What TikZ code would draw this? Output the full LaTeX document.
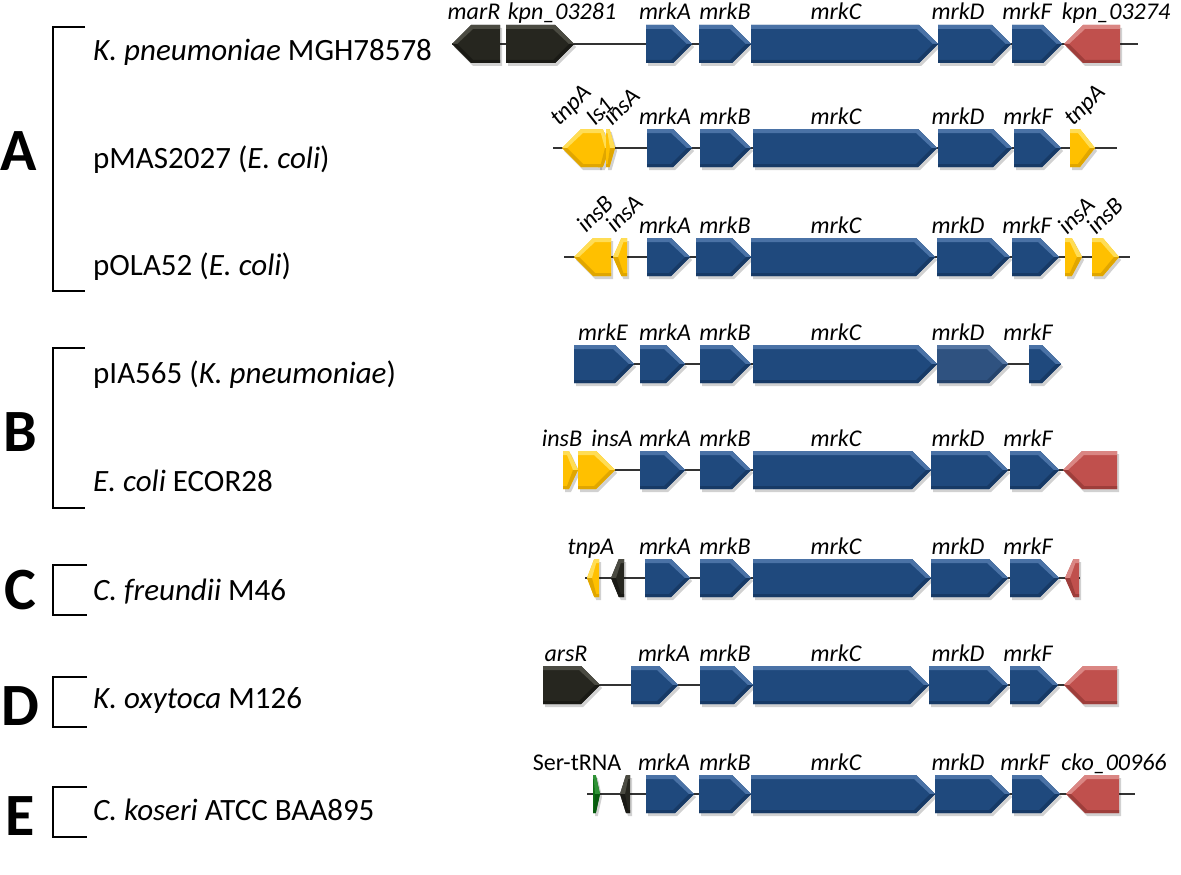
\documentclass[tikz,border=0pt]{standalone}
\usepackage{fontspec}
\setmainfont{Carlito}
\usepackage{tikz}
\usepackage{xcolor}

\definecolor{gbbase}{HTML}{1F497D}
\definecolor{gblight}{HTML}{4A72A6}
\definecolor{gbdark}{HTML}{173A66}
\definecolor{gmbase}{HTML}{2F5280}
\definecolor{gmlight}{HTML}{5576A3}
\definecolor{gmdark}{HTML}{26446C}
\definecolor{grbase}{HTML}{C0504D}
\definecolor{grlight}{HTML}{DA8683}
\definecolor{grdark}{HTML}{9E3E3B}
\definecolor{gybase}{HTML}{FFC000}
\definecolor{gylight}{HTML}{FFDD55}
\definecolor{gydark}{HTML}{E0A600}
\definecolor{gkbase}{HTML}{26261F}
\definecolor{gklight}{HTML}{4B4B42}
\definecolor{gkdark}{HTML}{1A1A15}
\definecolor{ggbase}{HTML}{0A6E12}
\definecolor{gglight}{HTML}{2F9236}
\definecolor{ggdark}{HTML}{075A0E}

% #1 colour, #2 y, #3 start x, #4 tip x
\newcommand{\gene}[4]{%
  \pgfmathsetmacro{\glen}{abs(#4-#3)}%
  \pgfmathsetmacro{\gsgn}{sign(#4-#3)}%
  \pgfmathsetmacro{\gtip}{min(19,0.6*\glen)}%
  \pgfmathsetmacro{\gneck}{#4-\gsgn*\gtip}%
  \pgfmathsetmacro{\gin}{#4-\gsgn*5}%
  \pgfmathsetmacro{\gnin}{\gneck-\gsgn*2}%
  \fill[black,opacity=.18] (#3+2,#2-16) -- (\gneck+2,#2-16) -- (#4+2,#2+3)
    -- (\gneck+2,#2+22) -- (#3+2,#2+22) -- cycle;
  \fill[#1base] (#3,#2-19) -- (\gneck,#2-19) -- (#4,#2) -- (\gneck,#2+19)
    -- (#3,#2+19) -- cycle;
  \fill[#1light] (#3,#2-19) -- (\gneck,#2-19) -- (#4,#2) -- (\gin,#2)
    -- (\gnin,#2-15) -- (#3,#2-15) -- cycle;
  \fill[#1dark] (#3,#2+19) -- (\gneck,#2+19) -- (#4,#2) -- (\gin,#2)
    -- (\gnin,#2+16) -- (#3,#2+16) -- cycle;
}

\begin{document}
\begin{tikzpicture}[x=1pt,y=-1pt,
  glab/.style={font=\fontsize{24}{26}\selectfont\itshape, anchor=base, inner sep=0pt},
  glabr/.style={glab, rotate=45, anchor=base west},
  strain/.style={font=\fontsize{31}{33}\selectfont, anchor=base west, inner sep=0pt},
  grp/.style={font=\fontsize{60}{60}\selectfont\bfseries, inner sep=0pt},
  bkt/.style={line width=2.4pt},
  backbone/.style={line width=2pt, draw=black!80}]
  \useasboundingbox (0,0) rectangle (1181,875);

  % groups
  \node[grp] (gA) at (19,151) {A};
  \node[grp] (gB) at (20,432) {B};
  \node[grp] (gC) at (20,590) {C};
  \node[grp] (gD) at (20,706) {D};
  \node[grp] (gE) at (20,816) {E};
  \draw[bkt] (85,27) -- (53,27) -- (53,291) -- (85,291);
  \draw[bkt] (85,348) -- (53,348) -- (53,508) -- (85,508);
  \draw[bkt] (87,565) -- (53,565) -- (53,615) -- (87,615);
  \draw[bkt] (87,677) -- (53,677) -- (53,727) -- (87,727);
  \draw[bkt] (87,787) -- (53,787) -- (53,837) -- (87,837);

  \node[strain] (s1) at (93,61) {\itshape K. pneumoniae\/\upshape\ MGH78578};
  \node[strain] (s2) at (93,168) {pMAS2027 (\textit{E. coli})};
  \node[strain] (s3) at (93,275) {pOLA52 (\textit{E. coli})};
  \node[strain] (s4) at (93,383) {pIA565 (\textit{K. pneumoniae})};
  \node[strain] (s5) at (93,491) {\textit{E. coli} ECOR28};
  \node[strain] (s6) at (93,600) {\textit{C. freundii} M46};
  \node[strain] (s7) at (93,708) {\textit{K. oxytoca} M126};
  \node[strain] (s8) at (93,820) {\textit{C. koseri} ATCC BAA895};

  % row 1
  \coordinate (r1s) at (452,44);
  \coordinate (r1e) at (1138,44);
  \draw[backbone] (r1s) -- (r1e);
  \gene{gk}{44}{500}{452}
  \gene{gk}{44}{506}{574}
  \gene{gb}{44}{646}{692}
  \gene{gb}{44}{699}{751}
  \gene{gb}{44}{751}{938}
  \gene{gb}{44}{938}{1011}
  \gene{gb}{44}{1012}{1062}
  \gene{gr}{44}{1120}{1064}
  \node[glab] (r1a) at (474,20) {marR};
  \node[glab] (r1b) at (562,20) {kpn\_03281};
  \node[glab] (r1c) at (665,20) {mrkA};
  \node[glab] (r1d) at (725,20) {mrkB};
  \node[glab] (r1e) at (836,20) {mrkC};
  \node[glab] (r1f) at (958,20) {mrkD};
  \node[glab] (r1g) at (1027,20) {mrkF};
  \node[glab] (r1h) at (1116,20) {kpn\_03274};

  % row 2
  \coordinate (r2s) at (553,148);
  \coordinate (r2e) at (1117,148);
  \draw[backbone] (r2s) -- (r2e);
  \gene{gy}{148}{600}{562}
  \gene{gy}{148}{598}{610}
  \gene{gy}{148}{606}{615}
  \gene{gb}{148}{647}{692}
  \gene{gb}{148}{700}{751}
  \gene{gb}{148}{753}{937}
  \gene{gb}{148}{938}{1012}
  \gene{gb}{148}{1014}{1061}
  \gene{gy}{148}{1070}{1095}
  \node[glabr] (r2a) at (559,127) {tnpA};
  \node[glabr] (r2b) at (595,127) {Is1};
  \node[glabr] (r2c) at (612,127) {insA};
  \node[glab] (r2d) at (665,124) {mrkA};
  \node[glab] (r2e) at (725,124) {mrkB};
  \node[glab] (r2f) at (836,124) {mrkC};
  \node[glab] (r2g) at (958,124) {mrkD};
  \node[glab] (r2h) at (1028,124) {mrkF};
  \node[glabr] (r2i) at (1073,127) {tnpA};

  % row 3
  \coordinate (r3s) at (564,257);
  \coordinate (r3e) at (1130,257);
  \draw[backbone] (r3s) -- (r3e);
  \gene{gy}{257}{611}{574}
  \gene{gy}{257}{627}{613}
  \gene{gb}{257}{647}{690}
  \gene{gb}{257}{696}{751}
  \gene{gb}{257}{751}{935}
  \gene{gb}{257}{937}{1010}
  \gene{gb}{257}{1012}{1059}
  \gene{gy}{257}{1065}{1082}
  \gene{gy}{257}{1092}{1119}
  \node[glabr] (r3a) at (586,234) {insB};
  \node[glabr] (r3b) at (615,234) {insA};
  \node[glab] (r3c) at (665,233) {mrkA};
  \node[glab] (r3d) at (725,233) {mrkB};
  \node[glab] (r3e) at (836,233) {mrkC};
  \node[glab] (r3f) at (958,233) {mrkD};
  \node[glab] (r3g) at (1027,233) {mrkF};
  \node[glabr] (r3h) at (1067,236) {insA};
  \node[glabr] (r3i) at (1096,236) {insB};

  % row 4
  \coordinate (r4s) at (574,364);
  \coordinate (r4e) at (1061,364);
  \draw[backbone] (r4s) -- (r4e);
  \gene{gb}{364}{574}{634}
  \gene{gb}{364}{640}{685}
  \gene{gb}{364}{700}{751}
  \gene{gb}{364}{753}{937}
  \gene{gm}{364}{937}{1008}
  \gene{gb}{364}{1029}{1061}
  \node[glab] (r4a) at (603,340) {mrkE};
  \node[glab] (r4b) at (665,340) {mrkA};
  \node[glab] (r4c) at (725,340) {mrkB};
  \node[glab] (r4d) at (836,340) {mrkC};
  \node[glab] (r4e) at (958,340) {mrkD};
  \node[glab] (r4f) at (1028,340) {mrkF};

  % row 5
  \coordinate (r5s) at (563,470);
  \coordinate (r5e) at (1117,470);
  \draw[backbone] (r5s) -- (r5e);
  \gene{gy}{470}{563}{578}
  \gene{gy}{470}{578}{615}
  \gene{gb}{470}{640}{685}
  \gene{gb}{470}{700}{751}
  \gene{gb}{470}{753}{931}
  \gene{gb}{470}{931}{1008}
  \gene{gb}{470}{1010}{1059}
  \gene{gr}{470}{1117}{1063}
  \node[glab] (r5a) at (562,446) {insB};
  \node[glab] (r5b) at (612,446) {insA};
  \node[glab] (r5c) at (665,446) {mrkA};
  \node[glab] (r5d) at (725,446) {mrkB};
  \node[glab] (r5e) at (836,446) {mrkC};
  \node[glab] (r5f) at (958,446) {mrkD};
  \node[glab] (r5g) at (1028,446) {mrkF};

  % row 6
  \coordinate (r6s) at (585,578);
  \coordinate (r6e) at (1080,578);
  \draw[backbone] (r6s) -- (r6e);
  \gene{gy}{578}{599}{587}
  \gene{gk}{578}{624}{611}
  \gene{gb}{578}{645}{690}
  \gene{gb}{578}{700}{751}
  \gene{gb}{578}{753}{931}
  \gene{gb}{578}{931}{1008}
  \gene{gb}{578}{1010}{1059}
  \gene{gr}{578}{1079}{1065}
  \node[glab] (r6a) at (591,554) {tnpA};
  \node[glab] (r6b) at (665,554) {mrkA};
  \node[glab] (r6c) at (725,554) {mrkB};
  \node[glab] (r6d) at (836,554) {mrkC};
  \node[glab] (r6e) at (958,554) {mrkD};
  \node[glab] (r6f) at (1028,554) {mrkF};

  % row 7
  \coordinate (r7s) at (543,685);
  \coordinate (r7e) at (1117,685);
  \draw[backbone] (r7s) -- (r7e);
  \gene{gk}{685}{543}{600}
  \gene{gb}{685}{631}{678}
  \gene{gb}{685}{700}{753}
  \gene{gb}{685}{753}{929}
  \gene{gb}{685}{929}{1008}
  \gene{gb}{685}{1010}{1058}
  \gene{gr}{685}{1117}{1064}
  \node[glab] (r7a) at (566,661) {arsR};
  \node[glab] (r7b) at (664,661) {mrkA};
  \node[glab] (r7c) at (725,661) {mrkB};
  \node[glab] (r7d) at (836,661) {mrkC};
  \node[glab] (r7e) at (958,661) {mrkD};
  \node[glab] (r7f) at (1028,661) {mrkF};

  % row 8
  \coordinate (r8s) at (587,794);
  \coordinate (r8e) at (1135,794);
  \draw[backbone] (r8s) -- (r8e);
  \gene{gg}{794}{593}{600}
  \gene{gk}{794}{630}{620}
  \gene{gb}{794}{646}{694}
  \gene{gb}{794}{699}{751}
  \gene{gb}{794}{751}{935}
  \gene{gb}{794}{935}{1010}
  \gene{gb}{794}{1012}{1060}
  \gene{gr}{794}{1119}{1066}
  \node[glab] (r8a) at (577,770) {\upshape Ser-tRNA};
  \node[glab] (r8b) at (664,770) {mrkA};
  \node[glab] (r8c) at (725,770) {mrkB};
  \node[glab] (r8d) at (836,770) {mrkC};
  \node[glab] (r8e) at (958,770) {mrkD};
  \node[glab] (r8f) at (1025,770) {mrkF};
  \node[glab] (r8g) at (1114,770) {cko\_00966};
\end{tikzpicture}
\end{document}
